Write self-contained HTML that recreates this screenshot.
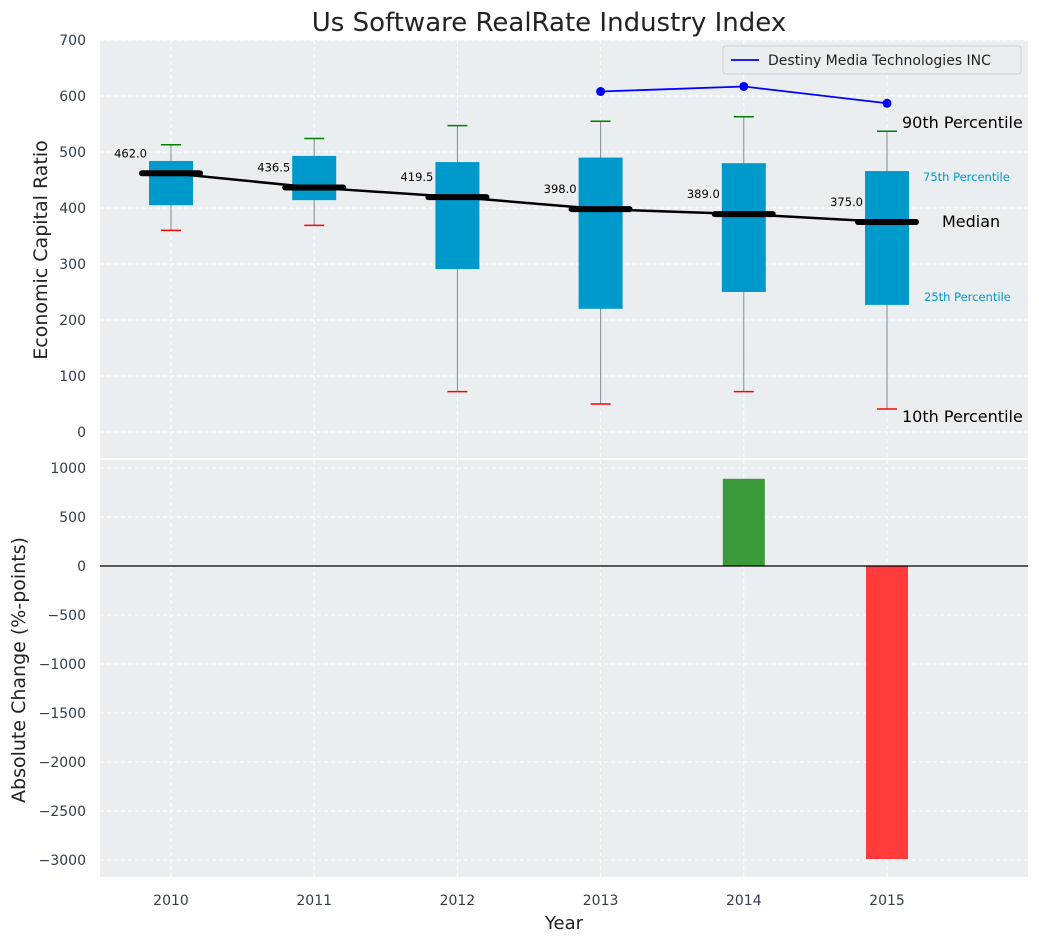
<!DOCTYPE html>
<html><head><meta charset="utf-8"><style>
body{margin:0;background:#fff;font-family:"Liberation Sans","DejaVu Sans",sans-serif}
svg text{font-family:"DejaVu Sans","Liberation Sans",sans-serif}
</style></head><body>
<svg id="c" width="1039" height="942" xmlns="http://www.w3.org/2000/svg"></svg>
<script>
const years=[2010,2011,2012,2013,2014,2015];
const p10=[360,369,72,50,72,41];
const q1=[405,414,291,220,250,227];
const med=[462,436.5,419.5,398,389,375];
const q3=[484,493,482,490,480,466];
const p90=[513,524,547,555,563,537];
const compYears=[2013,2014,2015];
const compVals=[608,617,587];
const changes=[null,null,null,null,890,-2990];
const topTicks=[0,100,200,300,400,500,600,700];
const botTicks=[1000,500,0,-500,-1000,-1500,-2000,-2500,-3000];
const NS="http://www.w3.org/2000/svg";
const svg=document.getElementById('c');
const X=y=>171+(y-2010)*143.2;
const YT=v=>432-0.56*v;
const YB=v=>566-0.098*v;
function el(t,a,txt){const e=document.createElementNS(NS,t);for(const k in a)e.setAttribute(k,a[k]);if(txt!==undefined)e.textContent=txt;svg.appendChild(e);return e;}
let e=el('rect',{x:100,y:40,width:928,height:418,fill:'#eaeef0'});

e=el('rect',{x:100,y:460,width:928,height:417,fill:'#eaeef0'});

years.forEach(y=>{el('line',{x1:X(y),x2:X(y),y1:40,y2:458,stroke:'#fff','stroke-dasharray':'4,3'});el('line',{x1:X(y),x2:X(y),y1:460,y2:877,stroke:'#fff','stroke-dasharray':'4,3'});
 e=el('text',{x:X(y),y:905,'text-anchor':'middle','font-size':14,fill:'#333d4a'},y);
 });
topTicks.forEach(v=>{el('line',{x1:100,x2:1028,y1:YT(v),y2:YT(v),stroke:'#fff','stroke-dasharray':'4,3'});
 e=el('text',{x:86,y:YT(v)+5,'text-anchor':'end','font-size':14,fill:'#333d4a'},v);
 });
botTicks.forEach(v=>{el('line',{x1:100,x2:1028,y1:YB(v),y2:YB(v),stroke:'#fff','stroke-dasharray':'4,3'});
 e=el('text',{x:86,y:YB(v)+5,'text-anchor':'end','font-size':14,fill:'#333d4a'},v<0?'\u2212'+(-v):v);
 });
years.forEach((y,i)=>{const x=X(y);
 e=el('line',{x1:x,x2:x,y1:YT(p10[i]),y2:YT(p90[i]),stroke:'#888','stroke-width':1});
 
 e=el('rect',{x:x-22,y:YT(q3[i]),width:44,height:YT(q1[i])-YT(q3[i]),fill:'#0099cc'});
 
 e=el('line',{x1:x-10,x2:x+10,y1:YT(p90[i]),y2:YT(p90[i]),stroke:'green','stroke-width':1.5});
 
 e=el('line',{x1:x-10,x2:x+10,y1:YT(p10[i]),y2:YT(p10[i]),stroke:'red','stroke-width':1.5});
 
});
e=el('polyline',{points:years.map((y,i)=>X(y)+','+YT(med[i])).join(' '),fill:'none',stroke:'#000','stroke-width':2.5});

years.forEach((y,i)=>{const x=X(y);
 e=el('line',{x1:x-29,x2:x+29,y1:YT(med[i]),y2:YT(med[i]),stroke:'#000','stroke-width':6,'stroke-linecap':'round'});
 
 e=el('text',{x:x-24,y:YT(med[i])-16,'text-anchor':'end','font-size':11.5,fill:'#000'},med[i].toFixed(1));
 
});
e=el('polyline',{points:compYears.map((y,i)=>X(y)+','+YT(compVals[i])).join(' '),fill:'none',stroke:'blue','stroke-width':1.8});

compYears.forEach((y,i)=>{e=el('circle',{cx:X(y),cy:YT(compVals[i]),r:4.5,fill:'blue'});
 });
const lx=X(2015);
[['90th Percentile',128,'#000',16,15],['75th Percentile',181,'#0099cc',11.5,36],['Median',227,'#000',16,55],['25th Percentile',301,'#0099cc',11.5,37],['10th Percentile',422,'#000',16,15]].forEach(([t,yy,c,s,dx])=>{
 e=el('text',{x:lx+dx,y:yy,'font-size':s,fill:c},t);
 });
e=el('rect',{x:723,y:46,width:298,height:28,fill:'#eaeef0',stroke:'#ccc',rx:3});

el('line',{x1:731,x2:759,y1:60,y2:60,stroke:'blue','stroke-width':1.8});
e=el('text',{x:768,y:65,'font-size':14,fill:'#222'},'Destiny Media Technologies INC');

years.forEach((y,i)=>{const v=changes[i];if(v==null)return;
 e=el('rect',{x:X(y)-21,y:Math.min(YB(v),YB(0)),width:42,height:Math.abs(YB(v)-YB(0)),fill:v>=0?'#3a9a3a':'#ff3b3b'});
 });
e=el('line',{x1:100,x2:1028,y1:YB(0),y2:YB(0),stroke:'#000','stroke-width':1.2});

e=el('text',{x:549,y:31,'text-anchor':'middle','font-size':26,fill:'#222'},'Us Software RealRate Industry Index');

e=el('text',{x:564,y:929,'text-anchor':'middle','font-size':18,fill:'#222'},'Year');

e=el('text',{x:0,y:0,'text-anchor':'middle','font-size':19,fill:'#222',transform:'translate(47,250) rotate(-90)'},'Economic Capital Ratio');

e=el('text',{x:0,y:0,'text-anchor':'middle','font-size':19,fill:'#222',transform:'translate(25,670) rotate(-90)'},'Absolute Change (%-points)');

</script>
</body></html>
